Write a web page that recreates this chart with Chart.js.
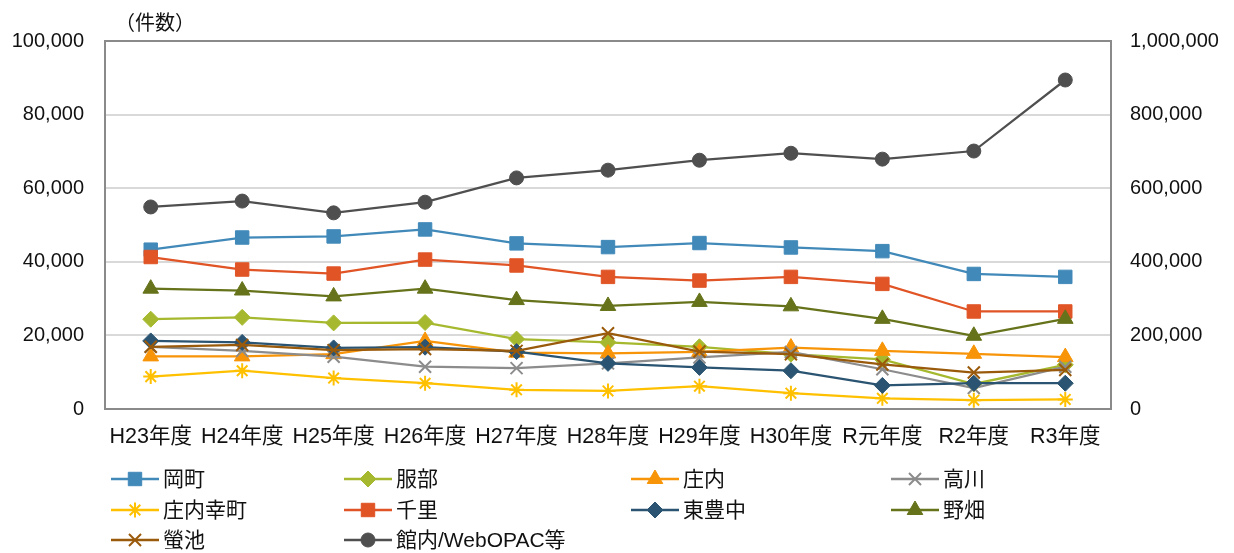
<!DOCTYPE html>
<html lang="ja">
<head>
<meta charset="utf-8">
<title>図書館別 件数の推移</title>
<script src="https://cdn.jsdelivr.net/npm/chart.js@4.4.1/dist/chart.umd.min.js"></script>
<style>
    html, body { margin: 0; padding: 0; background: #fff; }
    #wrap { width: 1234px; height: 553px; }
</style>
</head>
<body>
<div id="wrap"><canvas id="chart-kensu" width="1234" height="553"></canvas></div>
<script>
// 年度
const nendo = ['H23年度', 'H24年度', 'H25年度', 'H26年度', 'H27年度', 'H28年度', 'H29年度', 'H30年度', 'R元年度', 'R2年度', 'R3年度'];

// 館別件数（左軸）
const okamachi = [43300, 46600, 46900, 48800, 45000, 44000, 45100, 43900, 42900, 36700, 35900];
const hattori = [24400, 24900, 23400, 23500, 19000, 18100, 16900, 14900, 13500, 6800, 12000];
const shonai = [14300, 14300, 14900, 18500, 15300, 15100, 15500, 16700, 15800, 15000, 14100];
const takagawa = [16900, 15800, 14200, 11500, 11100, 12400, 14000, 15500, 10800, 5700, 11500];
const shonaiSaiwai = [8800, 10400, 8400, 7000, 5200, 4900, 6200, 4300, 2900, 2400, 2600];
const senri = [41300, 37900, 36800, 40600, 39000, 35900, 34900, 35900, 34000, 26500, 26500];
const higashiToyonaka = [18500, 18100, 16600, 16800, 15600, 12400, 11300, 10400, 6400, 7000, 7000];
const nobata = [32700, 32200, 30600, 32700, 29600, 28000, 29100, 27900, 24500, 19900, 24500];
const hotarugaike = [16900, 17400, 16000, 16300, 15800, 20600, 15600, 14900, 12100, 9900, 10600];

// 館内/WebOPAC等（右軸）
const kannaiWeb = [549000, 565000, 533000, 562000, 628000, 649000, 676000, 695000, 679000, 701000, 894000];

// 目盛
const leftTicks = [0, 20000, 40000, 60000, 80000, 100000];
const rightTicks = [0, 200000, 400000, 600000, 800000, 1000000];

const FONT_LATIN = "'Liberation Sans', Arial, sans-serif";
const FONT_JP = "'Liberation Sans', 'Noto Sans CJK JP', sans-serif";

const series = [
    { label: '岡町', data: okamachi, color: '#4189B9', style: 'rect', r: 9.5 },
    { label: '服部', data: hattori, color: '#A6B92E', style: 'rectRot', r: 8 },
    { label: '庄内', data: shonai, color: '#F79408', style: 'triangle', r: 9 },
    { label: '高川', data: takagawa, color: '#8C8C8C', style: 'crossRot', r: 8.5 },
    { label: '庄内幸町', data: shonaiSaiwai, color: '#FFC000', style: 'star', r: 7.5 },
    { label: '千里', data: senri, color: '#E05426', style: 'rect', r: 9.5 },
    { label: '東豊中', data: higashiToyonaka, color: '#2A5471', style: 'rectRot', r: 8 },
    { label: '野畑', data: nobata, color: '#66731A', style: 'triangle', r: 9 },
    { label: '螢池', data: hotarugaike, color: '#9A5A0B', style: 'crossRot', r: 8.5 },
    { label: '館内/WebOPAC等', data: kannaiWeb, color: '#4F4F4F', style: 'circle', r: 7, axis: 'y2' }
];

const legendCols = [111, 344, 631, 891];
const legendRows = [479, 510, 540];

// 枠線・単位・凡例
const decorPlugin = {
    id: 'decor',
    beforeDatasetsDraw(chart) {
        const { ctx, chartArea: a } = chart;
        ctx.save();
        ctx.strokeStyle = '#8A8A8A';
        ctx.lineWidth = 2;
        ctx.strokeRect(a.left, a.top, a.right - a.left, a.bottom - a.top);
        ctx.restore();
    },
    afterDraw(chart) {
        const ctx = chart.ctx;
        ctx.save();
        ctx.fillStyle = '#111';
        ctx.font = "20px 'Noto Sans CJK JP', sans-serif";
        ctx.textBaseline = 'middle';
        ctx.textAlign = 'left';
        ctx.fillText('（件数）', 115, 22);

        series.forEach((s, i) => {
            const x = legendCols[i % 4];
            const y = legendRows[Math.floor(i / 4)];
            const isLine = s.style === 'crossRot' || s.style === 'star';
            ctx.strokeStyle = s.color;
            ctx.fillStyle = s.color;
            ctx.lineWidth = 2.5;
            ctx.beginPath();
            ctx.moveTo(x, y);
            ctx.lineTo(x + 48, y);
            ctx.stroke();
            ctx.lineWidth = isLine ? 2 : 1;
            Chart.helpers.drawPoint(ctx, { pointStyle: s.style, radius: s.r, rotation: 0, borderWidth: ctx.lineWidth }, x + 24, y);
            ctx.fillStyle = '#111';
            ctx.font = '21px ' + FONT_JP;
            ctx.fillText(s.label, x + 52, y + 1);
        });
        ctx.restore();
    }
};

const ctx = document.getElementById('chart-kensu').getContext('2d');
new Chart(ctx, {
    type: 'line',
    data: {
        labels: nendo,
        datasets: series.map((s, i) => ({
            label: s.label,
            data: s.data,
            yAxisID: s.axis || 'y',
            borderColor: s.color,
            backgroundColor: s.color,
            borderWidth: 2.25,
            pointStyle: s.style,
            pointRadius: s.r,
            pointBorderWidth: (s.style === 'crossRot' || s.style === 'star') ? 2 : 1,
            pointBackgroundColor: s.color,
            pointBorderColor: s.color,
            tension: 0,
            order: series.length - i
        }))
    },
    options: {
        responsive: false,
        animation: false,
        devicePixelRatio: 1,
        layout: { padding: { top: 41, bottom: 94, left: 0, right: 0 } },
        plugins: {
            legend: { display: false },
            tooltip: { enabled: false }
        },
        scales: {
            x: {
                offset: true,
                grid: { display: false, drawTicks: false },
                border: { display: false },
                ticks: {
                    autoSkip: false,
                    maxRotation: 0,
                    padding: 15,
                    color: '#111',
                    font: { family: FONT_JP, size: 21.5 }
                },
                afterFit(scale) { scale.height = 50; }
            },
            y: {
                position: 'left',
                min: 0,
                max: 100000,
                afterBuildTicks(scale) { scale.ticks = leftTicks.map(v => ({ value: v })); },
                grid: { color: '#D9D9D9', lineWidth: 2, drawTicks: false },
                border: { display: false },
                ticks: {
                    padding: 21,
                    color: '#111',
                    font: { family: FONT_LATIN, size: 20 },
                    callback: v => v.toLocaleString('en-US')
                },
                afterFit(scale) { scale.width = 105; }
            },
            y2: {
                position: 'right',
                min: 0,
                max: 1000000,
                afterBuildTicks(scale) { scale.ticks = rightTicks.map(v => ({ value: v })); },
                grid: { display: false, drawTicks: false },
                border: { display: false },
                ticks: {
                    padding: 19,
                    color: '#111',
                    font: { family: FONT_LATIN, size: 20 },
                    callback: v => v.toLocaleString('en-US')
                },
                afterFit(scale) { scale.width = 123; }
            }
        }
    },
    plugins: [decorPlugin]
});
</script>
</body>
</html>
